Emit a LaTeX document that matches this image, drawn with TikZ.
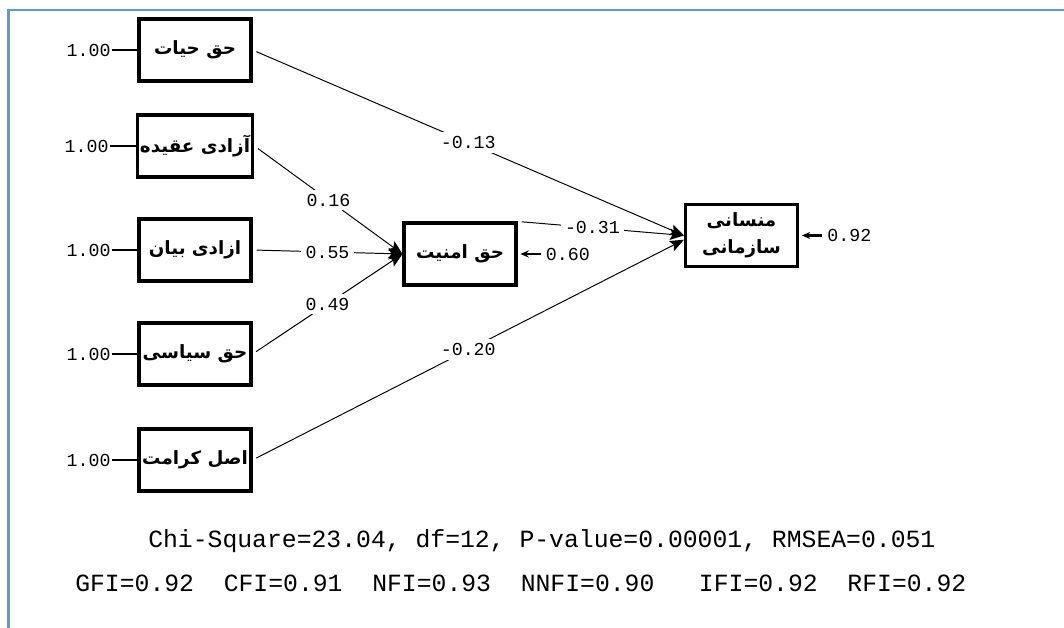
\documentclass[tikz,border=0pt]{standalone}
\usepackage{fontspec}
\usetikzlibrary{arrows.meta,positioning}
\TeXXeTstate=1
\newfontfamily\farsi[Script=Arabic]{DejaVu Sans}
\newfontfamily\lisrel{Liberation Mono}
\newcommand\fa[1]{\beginR #1\endR}
\definecolor{bleucadre}{HTML}{5B9BD5}
\tikzset{
  boite/.style={draw,line width=2.3pt,minimum width=79.5pt,minimum height=44pt,inner sep=2pt,
    align=center,font=\farsi\bfseries\fontsize{13}{19}\selectfont},
  unite/.style={inner sep=1pt,font=\lisrel\fontsize{13}{13}\selectfont},
  coef/.style={unite,fill=white,inner sep=3pt},
  effet/.style={line width=.7pt,shorten <=3pt,-{Stealth[length=10pt,width=8pt,inset=2pt]}},
  erreur/.style={line width=2pt,shorten <=2.5pt,shorten >=2pt,-{Stealth[length=6pt,width=5pt]}},
  stats/.style={anchor=base west,inner sep=0pt,font=\lisrel\fontsize{17.6}{20}\selectfont},
}
\begin{document}
\begin{tikzpicture}[x=0.025cm,y=-0.025cm]
  \useasboundingbox (0,0) rectangle (1064,628);
  \draw[bleucadre,line width=2pt] (1064,10) -- (8.5,10) -- (8.5,628);
  % variables exogenes, variance fixee a 1
  \foreach \i/\y/\nom in {1/50/حق حیات,2/146/آزادی عقیده,3/250/ازادی بیان,4/354/حق سیاسی,5/460/اصل کرامت}{
    \node[boite] (ksi\i) at (195,\y) {\fa{\nom}};
    \node[unite,left=18pt of ksi\i] (u\i) {1.00};
    \draw[line width=1pt] (u\i) -- (ksi\i);
  }
  % variables endogenes
  \node[boite] (eta1) at (460,254) {\fa{حق امنیت}};
  \node[boite] (eta2) at (741.5,235.5) {\fa{منسانی}\\\fa{سازمانی}};
  \node[unite,right=19pt of eta1] (d1) {0.60};
  \draw[erreur] (d1) -- (eta1);
  \node[unite,right=19pt of eta2] (d2) {0.92};
  \draw[erreur] (d2) -- (eta2);
  % coefficients
  \draw[effet] (ksi2.east) -- (eta1.west) node[coef,pos=.5] {0.16};
  \draw[effet] (ksi3.east) -- (eta1.west) node[coef,pos=.5] {0.55};
  \draw[effet] (ksi4.east) -- (eta1.west) node[coef,pos=.5] {0.49};
  \draw[effet] (ksi1.east) -- (eta2.west) node[coef,pos=.5] {-0.13};
  \draw[effet] (eta1.north east) -- (eta2.west) node[coef,pos=.45] {-0.31};
  \draw[effet] (ksi5.east) -- ([yshift=-3pt]eta2.west) node[coef,pos=.5] {-0.20};
  % indices d'ajustement
  \node[stats] (chi) at (148,547) {Chi-Square=23.04, df=12, P-value=0.00001, RMSEA=0.051};
  \node[stats] (gfi) at (75,591) {GFI=0.92\ \ CFI=0.91\ \ NFI=0.93\ \ NNFI=0.90\ \ \ IFI=0.92\ \ RFI=0.92};
\end{tikzpicture}
\end{document}
